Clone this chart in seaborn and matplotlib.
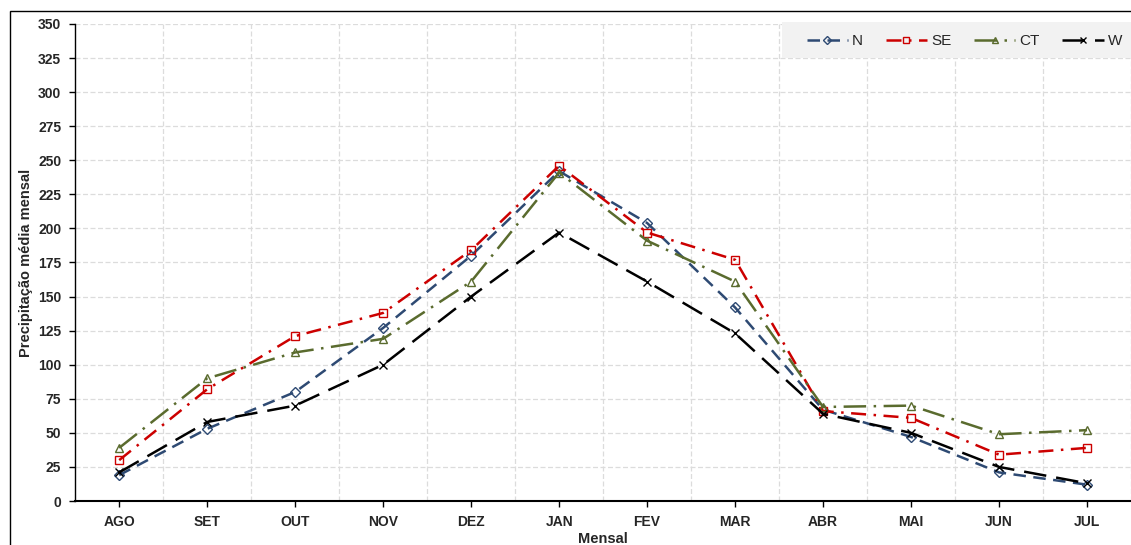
import matplotlib
matplotlib.use("Agg")
import matplotlib.pyplot as plt
import seaborn as sns
import pandas as pd
from matplotlib.patches import Rectangle

# --- data ---
months = ["AGO", "SET", "OUT", "NOV", "DEZ", "JAN", "FEV", "MAR", "ABR", "MAI", "JUN", "JUL"]
n_vals = [19, 53, 80, 127, 180, 242, 204, 142, 67, 47, 21, 12]
se_vals = [30, 82, 121, 138, 184, 246, 197, 177, 66, 61, 34, 39]
ct_vals = [39, 90, 109, 119, 161, 241, 191, 161, 69, 70, 49, 52]
w_vals = [21, 58, 70, 100, 150, 197, 161, 123, 64, 50, 25, 13]
y_ticks = list(range(0, 351, 25))

series = {"N": n_vals, "SE": se_vals, "CT": ct_vals, "W": w_vals}

# style per series: colour, marker, dash pattern
styles = {
    "N": dict(color="#2E4A73", marker="D", markersize=5, dashes=(5, 3)),
    "SE": dict(color="#CC0000", marker="s", markersize=6, dashes=(6, 3, 1, 3)),
    "CT": dict(color="#5A6B2E", marker="^", markersize=6, dashes=(9, 3, 1, 3)),
    "W": dict(color="#000000", marker="x", markersize=6, dashes=(9, 4)),
}

sns.set_theme(style="white")
plt.rcParams["font.family"] = ["Liberation Sans", "DejaVu Sans"]

fig = plt.figure(figsize=(11.31, 5.45), dpi=100)
ax = fig.add_axes([0.0665, 0.0807, 0.9335, 0.8753])

for name, vals in series.items():
    st = styles[name]
    df = pd.DataFrame({"Mes": months, "Valor": vals})
    sns.lineplot(data=df, x="Mes", y="Valor", sort=False, ax=ax, label=name,
                 color=st["color"], marker=st["marker"], markersize=st["markersize"],
                 markerfacecolor="none" if name != "W" else st["color"],
                 markeredgecolor=st["color"], markeredgewidth=1.0,
                 linewidth=1.8, dashes=st["dashes"])

ax.set_xlim(-0.5, 11.44)
ax.set_ylim(0, 350)
ax.set_yticks(y_ticks)
ax.set_xticks(range(len(months)))
ax.set_xticklabels(months)

# gridlines: horizontal on ticks, vertical between categories
ax.set_xticks([i + 0.5 for i in range(len(months))], minor=True)
ax.grid(True, which="major", axis="y", color="#DCDCDC", linestyle=(0, (4, 2)), linewidth=0.9)
ax.grid(True, which="minor", axis="x", color="#DCDCDC", linestyle=(0, (4, 2)), linewidth=0.9)
ax.set_axisbelow(True)

for side in ["top", "right"]:
    ax.spines[side].set_visible(False)
ax.spines["left"].set_color("black")
ax.spines["bottom"].set_color("black")
ax.spines["left"].set_linewidth(1.0)
ax.spines["bottom"].set_linewidth(1.5)

ax.tick_params(axis="both", which="major", length=4, width=1, color="black",
               direction="out", labelsize=10, pad=6)
ax.tick_params(axis="x", which="minor", length=0)
ax.tick_params(axis="y", left=True)
ax.tick_params(axis="x", bottom=True)
for lbl in ax.get_xticklabels() + ax.get_yticklabels():
    lbl.set_fontweight("bold")

ax.set_xlabel("Mensal", fontsize=10.5, fontweight="bold", labelpad=2)
ax.set_ylabel("Precipitação média mensal", fontsize=10.5, fontweight="bold", labelpad=4)

# grey legend panel in the upper right corner
ax.add_patch(Rectangle((0.669, 0.929), 0.35, 0.075, transform=ax.transAxes,
                       facecolor="#F2F2F2", edgecolor="none", zorder=3, clip_on=False))
leg = ax.legend(loc="center left", ncol=4, frameon=False, fontsize=11,
                handlelength=2.7, handletextpad=0.25, columnspacing=1.5,
                borderpad=0, borderaxespad=0, markerscale=0.8,
                bbox_to_anchor=(0.693, 0.964))
leg.set_zorder(4)

# thin border round the chart
fig.patches.append(Rectangle((0.009, -0.01), 1.0, 0.99, transform=fig.transFigure,
                             fill=False, edgecolor="black", linewidth=1.0))

fig.savefig("out.png", dpi=100)
